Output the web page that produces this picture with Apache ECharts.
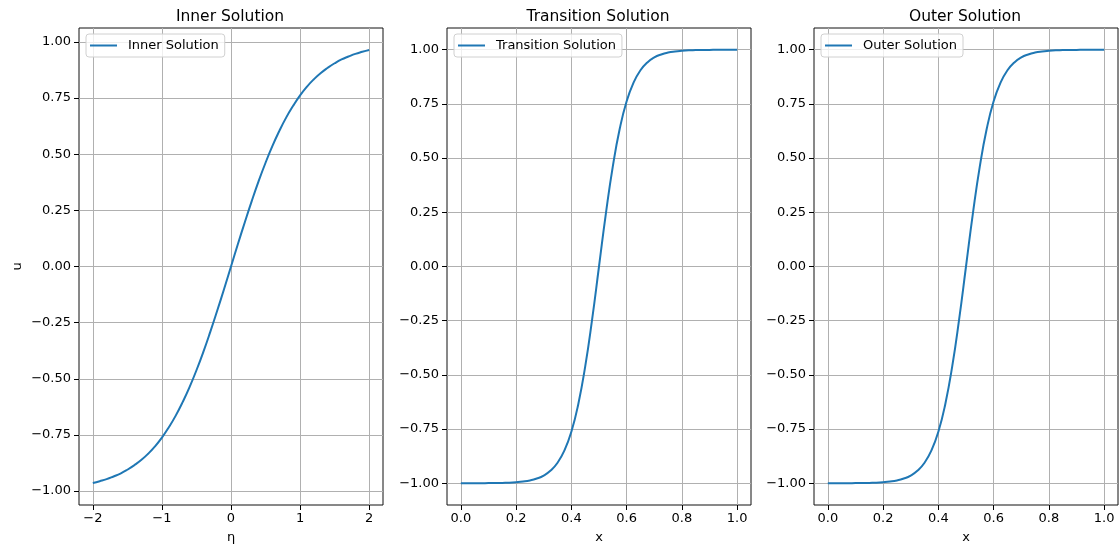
<!doctype html>
<html lang="en">

<head>
    <meta charset="utf-8">
    <title>Inner / Transition / Outer Solution</title>
    <script src="https://cdn.jsdelivr.net/npm/echarts@6.0.0/dist/echarts.min.js"></script>
    <style>
        html, body { margin: 0; padding: 0; background: #fff; }
    </style>
</head>

<body>
    <div id="main" style="width: 1119px;height:549px;"></div>
    <script type="text/javascript">

        // values
        var innerEta = [-2.0, -1.9, -1.8, -1.7, -1.6, -1.5, -1.4, -1.3, -1.2, -1.1, -1.0,
                        -0.9, -0.8, -0.7, -0.6, -0.5, -0.4, -0.3, -0.2, -0.1, 0.0,
                        0.1, 0.2, 0.3, 0.4, 0.5, 0.6, 0.7, 0.8, 0.9, 1.0,
                        1.1, 1.2, 1.3, 1.4, 1.5, 1.6, 1.7, 1.8, 1.9, 2.0];
        var innerU = [-0.964, -0.956, -0.947, -0.935, -0.922, -0.905, -0.885, -0.862, -0.834, -0.801, -0.762,
                      -0.716, -0.664, -0.604, -0.537, -0.462, -0.380, -0.291, -0.197, -0.100, 0.000,
                      0.100, 0.197, 0.291, 0.380, 0.462, 0.537, 0.604, 0.664, 0.716, 0.762,
                      0.801, 0.834, 0.862, 0.885, 0.905, 0.922, 0.935, 0.947, 0.956, 0.964];

        var transX = [0.000, 0.025, 0.050, 0.075, 0.100, 0.125, 0.150, 0.175, 0.200, 0.225,
                      0.250, 0.275, 0.300, 0.325, 0.350, 0.375, 0.400, 0.425, 0.450, 0.475,
                      0.500, 0.525, 0.550, 0.575, 0.600, 0.625, 0.650, 0.675, 0.700, 0.725,
                      0.750, 0.775, 0.800, 0.825, 0.850, 0.875, 0.900, 0.925, 0.950, 0.975, 1.000];
        var transU = [-1.000, -1.000, -1.000, -1.000, -0.999, -0.999, -0.998, -0.997, -0.995, -0.992,
                      -0.987, -0.978, -0.964, -0.941, -0.905, -0.848, -0.762, -0.635, -0.462, -0.245,
                      0.000, 0.245, 0.462, 0.635, 0.762, 0.848, 0.905, 0.941, 0.964, 0.978,
                      0.987, 0.992, 0.995, 0.997, 0.998, 0.999, 0.999, 1.000, 1.000, 1.000, 1.000];

        var outerX = [0.000, 0.025, 0.050, 0.075, 0.100, 0.125, 0.150, 0.175, 0.200, 0.225,
                      0.250, 0.275, 0.300, 0.325, 0.350, 0.375, 0.400, 0.425, 0.450, 0.475,
                      0.500, 0.525, 0.550, 0.575, 0.600, 0.625, 0.650, 0.675, 0.700, 0.725,
                      0.750, 0.775, 0.800, 0.825, 0.850, 0.875, 0.900, 0.925, 0.950, 0.975, 1.000];
        var outerU = [-1.000, -1.000, -1.000, -1.000, -0.999, -0.999, -0.998, -0.997, -0.995, -0.992,
                      -0.987, -0.978, -0.964, -0.941, -0.905, -0.848, -0.762, -0.635, -0.462, -0.245,
                      0.000, 0.245, 0.462, 0.635, 0.762, 0.848, 0.905, 0.941, 0.964, 0.978,
                      0.987, 0.992, 0.995, 0.997, 0.998, 0.999, 0.999, 1.000, 1.000, 1.000, 1.000];

        // tick labels
        var yTicks = [-1.0, -0.75, -0.5, -0.25, 0.0, 0.25, 0.5, 0.75, 1.0];
        var innerXTicks = [-2, -1, 0, 1, 2];
        var unitXTicks = [0.0, 0.2, 0.4, 0.6, 0.8, 1.0];

        var titles = ['Inner Solution', 'Transition Solution', 'Outer Solution'];
        var xNames = ['\u03b7', 'x', 'x'];

        var FONT = 'DejaVu Sans';
        var BLUE = '#1f77b4';
        var gridLefts = [79, 447, 814];
        var gridWidth = 304;

        function minus(s) {
            return String(s).replace('-', '\u2212');
        }

        function pairs(xs, ys) {
            return xs.map(function (x, i) { return [x, ys[i]]; });
        }

        function xAxis(idx, min, max, ticks, digits) {
            return {
                type: 'value',
                gridIndex: idx,
                min: min,
                max: max,
                name: xNames[idx],
                nameLocation: 'middle',
                nameGap: 26,
                nameTextStyle: { fontFamily: FONT, fontSize: 13, color: '#000' },
                axisLine: { show: false, onZero: false },
                axisTick: { show: true, length: 5, lineStyle: { color: '#000' }, customValues: ticks },
                axisLabel: {
                    customValues: ticks,
                    margin: 7,
                    fontFamily: FONT, fontSize: 13, color: '#000',
                    formatter: function (v) { return minus(v.toFixed(digits)); }
                },
                splitLine: { show: true, lineStyle: { color: '#b0b0b0', width: 1 } }
            };
        }

        function yAxis(idx, min, max) {
            var ax = {
                type: 'value',
                gridIndex: idx,
                min: min,
                max: max,
                axisLine: { show: false, onZero: false },
                axisTick: { show: true, length: 5, lineStyle: { color: '#000' }, customValues: yTicks },
                axisLabel: {
                    customValues: yTicks,
                    margin: 8,
                    fontFamily: FONT, fontSize: 13, color: '#000',
                    formatter: function (v) { return minus(v.toFixed(2)); }
                },
                splitLine: { show: true, lineStyle: { color: '#b0b0b0', width: 1 } }
            };
            if (idx === 0) {
                ax.name = 'u';
                ax.nameLocation = 'middle';
                ax.nameGap = 55;
                ax.nameTextStyle = { fontFamily: FONT, fontSize: 13, color: '#000' };
            }
            return ax;
        }

        var grids = gridLefts.map(function (l) {
            return { left: l, top: 28, width: gridWidth, height: 477, show: true, borderColor: '#111', borderWidth: 1 };
        });

        var titleOpts = titles.map(function (t, i) {
            return {
                text: t,
                left: gridLefts[i] + gridWidth / 2 - 6,
                textAlign: 'center',
                top: 4,
                textStyle: { fontFamily: FONT, fontSize: 15.5, fontWeight: 'normal', color: '#000' }
            };
        });

        var legendOpts = titles.map(function (t, i) {
            return {
                data: [t],
                left: gridLefts[i] + 7,
                top: 34,
                orient: 'vertical',
                icon: 'rect',
                itemWidth: 27,
                itemHeight: 2,
                padding: [5, 6, 5, 4],
                backgroundColor: 'rgba(255,255,255,0.8)',
                borderColor: '#d0d0d0',
                borderWidth: 1,
                borderRadius: 3,
                textStyle: { fontFamily: FONT, fontSize: 13, color: '#000', padding: [0, 0, 0, 6] }
            };
        });

        var seriesData = [pairs(innerEta, innerU), pairs(transX, transU), pairs(outerX, outerU)];

        var series = seriesData.map(function (d, i) {
            return {
                name: titles[i],
                type: 'line',
                xAxisIndex: i,
                yAxisIndex: i,
                data: d,
                smooth: true,
                showSymbol: false,
                color: BLUE,
                lineStyle: { color: BLUE, width: 2 }
            };
        });

        var myChart = echarts.init(document.getElementById('main'), null, { renderer: 'canvas' });
        myChart.setOption({
            animation: false,
            title: titleOpts,
            legend: legendOpts,
            grid: grids,
            xAxis: [
                xAxis(0, -2.2, 2.2, innerXTicks, 0),
                xAxis(1, -0.05, 1.05, unitXTicks, 1),
                xAxis(2, -0.05, 1.05, unitXTicks, 1)
            ],
            yAxis: [
                yAxis(0, -1.062, 1.062),
                yAxis(1, -1.1, 1.1),
                yAxis(2, -1.1, 1.1)
            ],
            series: series
        });
    </script>
</body>

</html>
